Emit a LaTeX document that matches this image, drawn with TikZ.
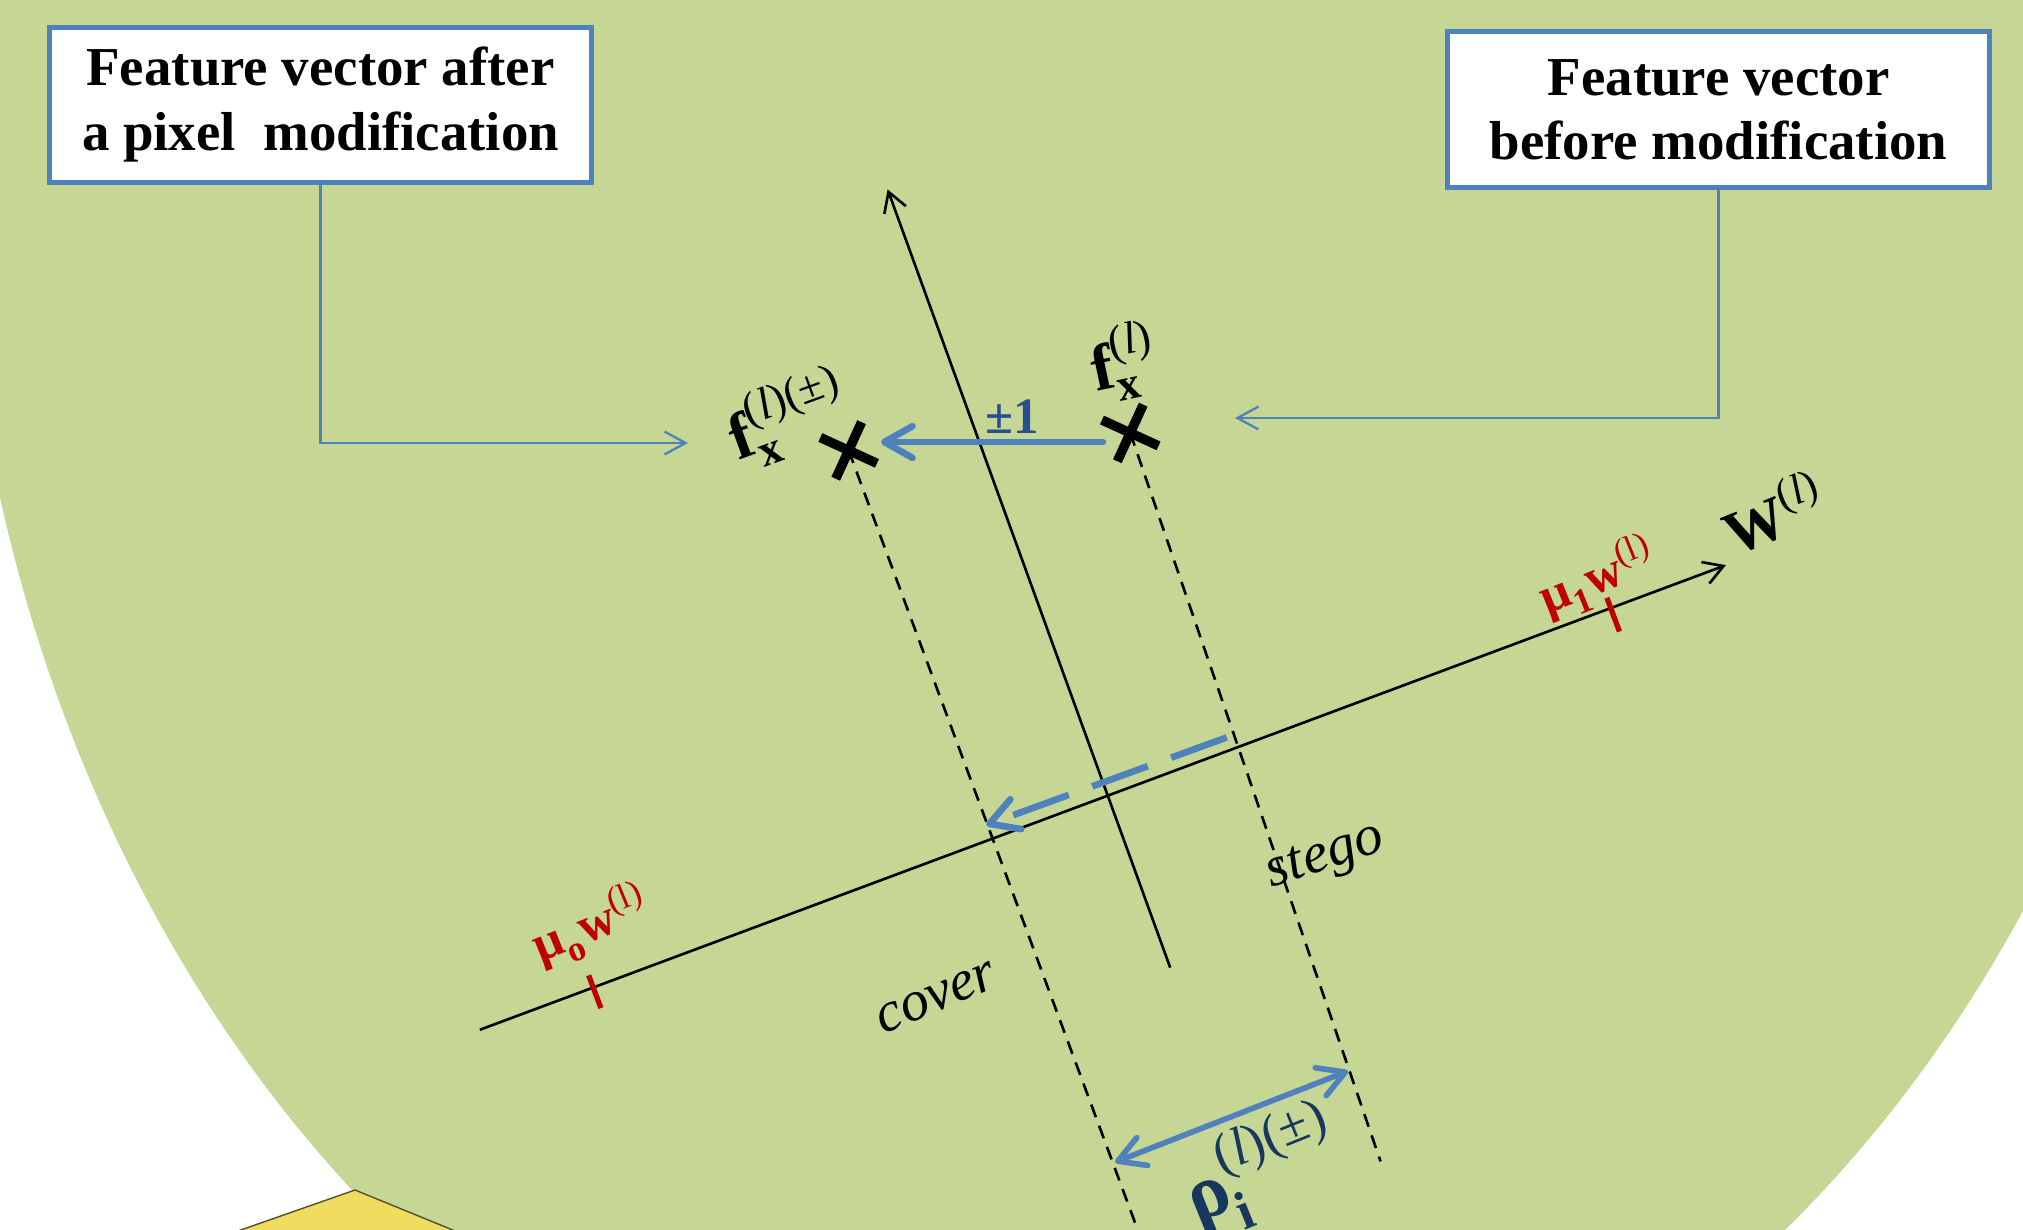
\documentclass[tikz,border=0pt]{standalone}
\usepackage{amsmath}
\usepackage{fontspec}
\setmainfont{Liberation Serif}
\usetikzlibrary{arrows.meta}
\definecolor{bggreen}{RGB}{198,214,148}
\definecolor{lineblue}{RGB}{79,129,189}
\definecolor{textblue}{RGB}{38,78,145}
\definecolor{navyblue}{RGB}{23,55,94}
\definecolor{markred}{RGB}{192,0,0}
\definecolor{sunyellow}{RGB}{240,220,94}
\definecolor{edgegray}{RGB}{80,80,50}
\tikzset{
  boxnode/.style={draw=lineblue, line width=1.4pt, fill=white, minimum width=5.42cm,
    minimum height=1.55cm, align=center, inner sep=0pt,
    font=\fontsize{15.6}{18.3}\selectfont\bfseries},
  callout/.style={draw=lineblue, line width=0.65pt, -{Straight Barb[length=6pt,width=6.5pt]}},
  axisline/.style={draw=black, line width=0.75pt, -{Straight Barb[length=5.5pt,width=6.5pt]}},
  projline/.style={draw=black, line width=0.75pt, dash pattern=on 3.8pt off 2.6pt},
  thickblue/.style={draw=lineblue, line width=1.9pt, line cap=round,
    -{Straight Barb[length=8pt,width=9pt,round]}},
  dashblue/.style={draw=lineblue, line width=1.9pt, dash pattern=on 16.8pt off 7.1pt,
    -{Straight Barb[length=8pt,width=9pt,round]}},
  rhoarrow/.style={draw=lineblue, line width=1.6pt, line cap=round,
    {Straight Barb[length=7.5pt,width=8.5pt,round]}-{Straight Barb[length=7.5pt,width=8.5pt,round]}},
  tickmark/.style={draw=markred, line width=1.5pt},
  crossmark/.style={draw=black, line width=2.7pt},
  lbl/.style={inner sep=0pt, anchor=center}
}
\begin{document}
\begin{tikzpicture}[x=0.01cm,y=0.01cm]
\useasboundingbox (0,0) rectangle (2023,-1230);
\fill[white] (0,0) rectangle (2023,-1230);
\fill[bggreen] (1088,-121) ellipse [x radius=11.28cm, y radius=14.09cm];
\filldraw[fill=sunyellow, draw=edgegray, line width=0.4pt] (155,-1260) -- (355,-1190) -- (526,-1260) -- cycle;

% boxes and callouts
\node[boxnode] (boxA) at (320.5,-104.6) {Feature vector after\\a pixel~~modification};
\node[boxnode] (boxB) at (1718.6,-109.5) {Feature vector\\before modification};
\coordinate (tipA) at (688,-443);
\coordinate (tipB) at (1235,-418);
\draw[callout] (boxA.south) |- (tipA);
\draw[callout] (boxB.south) |- (tipB);

% rotated frame of the two axes
\begin{scope}[shift={(1107.6,-795.7)}, rotate=20.45]
  \coordinate (W0) at (-670,0);
  \coordinate (W1) at (660,0);
  \coordinate (V0) at (-1.4,-183);
  \coordinate (V1) at (5.7,645);
  \coordinate (crossA) at (-122,414);
  \coordinate (crossB) at (148,332);
  \coordinate (projA) at (-124,-700);
  \coordinate (projB) at (128,-438);
  \coordinate (dA) at (-124,15);
  \coordinate (dB) at (132,13);
  \coordinate (rA) at (-121,-346);
  \coordinate (rB) at (129,-342);
  \coordinate (m1a) at (537,-25);
  \coordinate (m1b) at (537,11);
  \coordinate (m0a) at (-549,-22);
  \coordinate (m0b) at (-549,13);
  \draw[axisline] (W0) -- (W1);
  \draw[axisline] (V0) -- (V1);
  \draw[projline] (crossA) -- (projA);
  \draw[projline] (crossB) -- (projB);
  \draw[dashblue] (dB) -- (dA);
  \draw[rhoarrow] (rA) -- (rB);
  \draw[tickmark] (m1a) -- (m1b);
  \draw[tickmark] (m0a) -- (m0b);
  \draw[crossmark] (crossA) ++(-22,-22) -- ++(44,44) (crossA) ++(-22,22) -- ++(44,-44);
  \draw[crossmark] (crossB) ++(-22,-22) -- ++(44,44) (crossB) ++(-22,22) -- ++(44,-44);
\end{scope}

% the +-1 move
\coordinate (pmS) at (1103,-442);
\coordinate (pmE) at (881,-442);
\draw[thickblue] (pmS) -- (pmE);
\node[lbl, text=textblue, font=\fontsize{14.5}{16}\selectfont\bfseries] (pm) at (1012,-417) {±1};

% labels
\node[lbl, rotate=20, font=\fontsize{18.5}{20}\selectfont] (fA) at (788,-418)
  {$\textbf{f}_{\textbf{x}}^{\text{(\textit{l})(±)}}$};
\node[lbl, rotate=12, font=\fontsize{18.5}{20}\selectfont] (fB) at (1124,-362)
  {$\textbf{f}_{\textbf{x}}^{\text{(\textit{l})}}$};
\node[lbl, rotate=22, font=\fontsize{17.5}{19}\selectfont] (Wl) at (1773,-512)
  {$\textbf{W}^{\text{(\textit{l})}}$};
\node[lbl, rotate=22, text=markred, font=\fontsize{14.5}{16}\selectfont] (mu1) at (1598,-578)
  {$\textbf{μ}_{\textbf{1}}\textbf{w}^{\text{(l)}}$};
\node[lbl, rotate=22, text=markred, font=\fontsize{14.5}{16}\selectfont] (mu0) at (591,-926)
  {$\textbf{μ}_{\textbf{o}}\textbf{w}^{\text{(l)}}$};
\node[lbl, rotate=23, font=\fontsize{16.2}{18}\selectfont\itshape] (cov) at (937,-998) {cover};
\node[lbl, rotate=18, font=\fontsize{16.2}{18}\selectfont\itshape] (stg) at (1326,-859) {stego};
\node[lbl, rotate=22, text=navyblue, font=\fontsize{22}{24}\selectfont] (rho) at (1262,-1170)
  {$\textbf{ρ}_{\textbf{i}}^{\text{(\textit{l})(±)}}$};
\end{tikzpicture}
\end{document}
